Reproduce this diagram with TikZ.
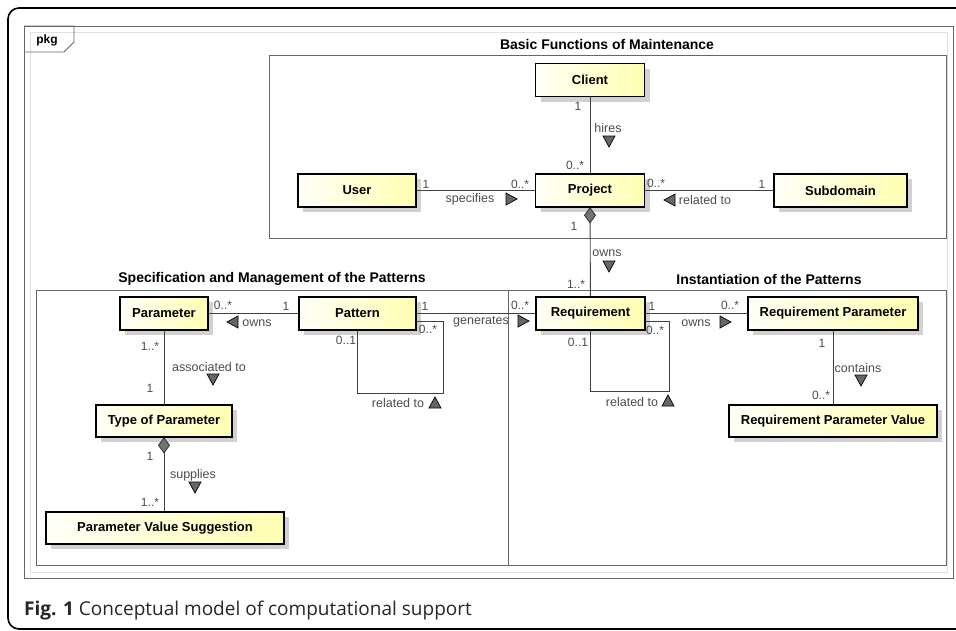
\documentclass[tikz,border=0pt]{standalone}
\usepackage{fontspec}
\setmainfont{Liberation Sans}
\newfontfamily\capfont{Open Sans}
\usetikzlibrary{calc,shadows}

\begin{document}
\begin{tikzpicture}[x=1pt, y=-1pt,
  cls/.style={draw=black, line width=1.6pt, left color=yellow!3, right color=yellow!30,
              minimum height=33, inner sep=0pt, font=\fontsize{13}{15}\selectfont\bfseries,
              drop shadow={shadow xshift=5pt, shadow yshift=-5pt, fill=black!18, opacity=1}},
  frm/.style={draw=black!60, line width=0.9pt},
  ttl/.style={font=\fontsize{14}{16}\selectfont\bfseries},
  assoc/.style={draw=black!75, line width=0.9pt},
  mult/.style={font=\fontsize{12}{14}\selectfont, text=black!70, inner sep=0pt},
  role/.style={font=\fontsize{12.5}{14}\selectfont, text=black!70, inner sep=0pt},
  tri/.pic={\filldraw[fill=black!60, draw=black, line width=0.7pt]
              (-5,-6) -- (6,0) -- (-5,6) -- cycle;},
  dmd/.pic={\filldraw[fill=black!55, draw=black!85, line width=0.7pt]
              (0,0) -- (-5.5,7.5) -- (0,15) -- (5.5,7.5) -- cycle;}
]
\useasboundingbox (0,0) rectangle (956,630);
% ---- cadre exterieur ---------------------------------------------------
\begin{scope}
  \clip (0,0) rectangle (956,630);
  \draw[line width=1.6pt, rounded corners=11] (8,8) rectangle (1000,629);
\end{scope}

% ---- paquet pkg et ses trois parties -----------------------------------
\draw[frm] (24,26) rectangle (953,578);
\draw[black!12] (30,32) rectangle (947,572);
\draw[frm] (24,26) -- (74,26) -- (74,42) -- (64,52) -- (24,52);
\node[font=\fontsize{12}{14}\selectfont\bfseries] (pkg) at (47,40) {pkg};

\draw[frm] (269,55) rectangle (946,238);
\draw[frm] (36,290) rectangle (508,565);
\draw[frm] (508,290) rectangle (946,565);
\node[ttl] (tbas) at (607,44) {Basic Functions of Maintenance};
\node[ttl] (tspe) at (272,279) {Specification and Management of the Patterns};
\node[ttl] (tins) at (769,279) {Instantiation of the Patterns};

% ---- classes -----------------------------------------------------------
\node[cls, minimum width=109] (cli) at (590,80) {Client};
\node[cls, minimum width=109] (prj) at (590,190.5) {Project};
\node[cls, minimum width=118] (usr) at (357,190.5) {User};
\node[cls, minimum width=133] (sub) at (840.5,190.5) {Subdomain};
\node[cls, minimum width=88] (par) at (164,313.5) {Parameter};
\node[cls, minimum width=117] (pat) at (357.5,313.5) {Pattern};
\node[cls, minimum width=136, minimum height=32] (typ) at (164,421) {Type of Parameter};
\node[cls, minimum width=238, minimum height=32] (pvs) at (165,528) {Parameter Value Suggestion};
\node[cls, minimum width=109] (req) at (590.5,313.5) {Requirement};
\node[cls, minimum width=170] (rqp) at (833,313.5) {Requirement Parameter};
\node[cls, minimum width=208, minimum height=32] (rpv) at (833,421) {Requirement Parameter Value};

% ---- associations ------------------------------------------------------
\draw[assoc] (cli) -- (prj);
\draw[assoc] (usr) -- (prj);
\draw[assoc] (prj) -- (sub);
\draw[assoc] (prj) -- (req);
\draw[assoc] (par) -- (pat);
\draw[assoc] (pat) -- (req);
\draw[assoc] (req) -- (rqp);
\draw[assoc] (rqp) -- (rpv);
\draw[assoc] (par) -- (typ);
\draw[assoc] (typ.south) -- (typ.south |- pvs.north);
% boucles reflexives
\draw[assoc] (pat.south) -- ++(0,63) -| ($(pat.east)+(27,8)$) -- ($(pat.east)+(0,8)$);
\draw[assoc] (req.south) -- ++(0,61) -| ($(req.east)+(24,8)$) -- ($(req.east)+(0,8)$);
% compositions
\pic at (prj.south) {dmd};
\pic at (typ.south) {dmd};

% ---- multiplicites, noms et sens de lecture ----------------------------
\foreach \t/\x/\y [count=\k] in {1/578/106, 0..*/575/165, 1/426/184, 0..*/520/184,
    0..*/656/183, 1/762/184, 1/574/226, 1..*/576/284, 0..*/223/305, 1/286/306,
    1/425/306, 0..*/520/305, 0..1/346/340, 0..*/428/329, 0..1/578/342, 0..*/655/330,
    1/652/306, 0..*/730/305, 1/822/343, 0..*/821/395, 1..*/150/346, 1/150/388,
    1/150/456, 1..*/150/502}
  \node[mult] (m\k) at (\x,\y) {\t};
\foreach \t/\x/\y [count=\k] in {hires/608/128, specifies/470/199, related to/705/200,
    owns/607/253, owns/257/323, generates/481/322, related to/398/403,
    related to/632/402, owns/696/323, contains/858/368, associated to/209/367,
    supplies/193/475}
  \node[role] (r\k) at (\x,\y) {\t};
\foreach \x/\y/\r in {609/141/-90, 511/199/0, 670/200/180, 609/266/-90, 233/322/180,
    523/321/0, 435/403/90, 668/401/90, 725/322/0, 861/380/-90, 213/379/-90, 195/487/-90}
  \pic[rotate=\r] at (\x,\y) {tri};

% ---- legende -----------------------------------------------------------
\node[anchor=west, inner sep=0pt, text=black!85, font=\capfont\fontsize{19}{22}\selectfont]
  (cap) at (24,611) {\textbf{Fig. 1} Conceptual model of computational support};
\end{tikzpicture}
\end{document}
